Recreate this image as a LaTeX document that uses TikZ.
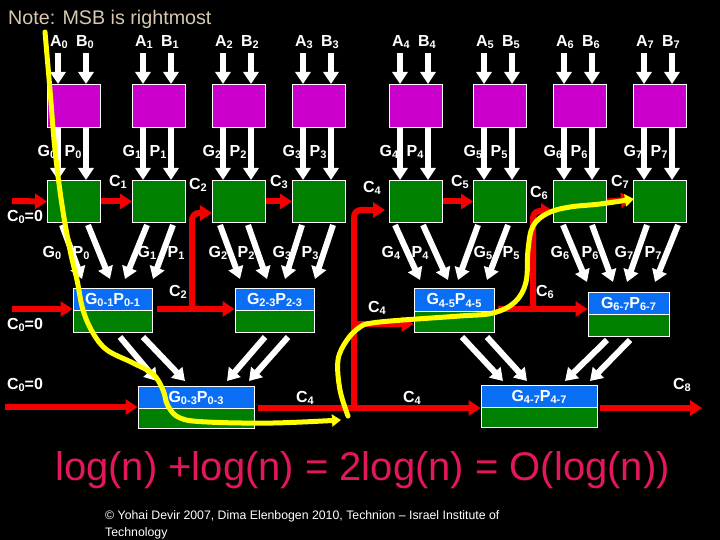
\documentclass[tikz,border=0pt]{standalone}
\usepackage{fontspec}
\setmainfont{Liberation Sans}
\usetikzlibrary{arrows.meta,calc,fit}
\definecolor{purp}{RGB}{204,0,204}
\definecolor{grn}{RGB}{0,128,0}
\definecolor{blu}{RGB}{10,110,245}
\definecolor{redc}{RGB}{245,0,0}
\definecolor{pinkc}{RGB}{228,24,88}
\definecolor{notec}{RGB}{215,200,175}
\definecolor{yel}{RGB}{255,255,0}
\newcommand\sbs[1]{\raisebox{-2.5bp}{\fontsize{11bp}{11bp}\selectfont #1}}
\newcommand\tbox[7]{%
  \fill[grn] (#2,#3) rectangle (#4,#5);
  \fill[blu] (#2,#3) rectangle (#4,#6);
  \draw[white,line width=1bp] (#2,#6) -- (#4,#6);
  \node[draw=white,line width=1bp,inner sep=0pt,fit={(#2,#3) (#4,#5)}] (#1) {};
  \node[lab] (#1t) at ({(#2+#4)/2},{(#3+#6)/2+1}) {#7};
}
\begin{document}
\begin{tikzpicture}[x=1bp,y=-1bp,
  lab/.style={text=white,font=\fontsize{16bp}{18bp}\selectfont\bfseries,inner sep=0pt},
  pbox/.style={draw=white,line width=1bp,fill=purp,minimum width=53bp,minimum height=43bp,inner sep=0pt,anchor=north west},
  gbox/.style={draw=white,line width=1bp,fill=grn,minimum width=53bp,minimum height=42bp,inner sep=0pt,anchor=north west},
  wa/.style={draw=white,line width=6bp,-{Triangle[length=12bp,width=15bp]}},
  ra/.style={draw=redc,line width=6bp,-{Triangle[length=12bp,width=15bp]}},
  yl/.style={draw=yel,line width=5bp,line cap=round,line join=round,-{Triangle[length=9bp,width=12bp]}}]
\fill[black] (0,0) rectangle (720,540);
\useasboundingbox (0,0) rectangle (720,540);
\node[anchor=base west,text=notec,font=\fontsize{19.7bp}{22bp}\selectfont,inner sep=0pt] (note) at (8,25) {Note: MSB is rightmost};
% top rows
\foreach \i/\l in {0/47,1/132,2/212,3/292,4/389,5/473,6/553,7/633} {
  \node[pbox] (p\i) at (\l,84) {};
  \node[gbox] (g\i) at (\l,180) {};
  \node[lab] (la\i) at ({\l+12},42) {A\sbs{\i}};
  \node[lab] (lb\i) at ({\l+38},42) {B\sbs{\i}};
  \node[lab] (lg\i) at ({\l+0},152) {G\sbs{\i}};
  \node[lab] (lp\i) at ({\l+26},152) {P\sbs{\i}};
  \coordinate (ta\i) at ({\l+11},53);
  \coordinate (tb\i) at ({\l+39},53);
  \draw[wa] (ta\i) -- (ta\i |- p\i.north);
  \draw[wa] (tb\i) -- (tb\i |- p\i.north);
  \draw[wa] (ta\i |- p\i.south) -- (ta\i |- g\i.north);
  \draw[wa] (tb\i |- p\i.south) -- (tb\i |- g\i.north);
}
% level-2 labels
\foreach \c/\d/\x in {G/0/52,P/0/81,G/1/147,P/1/176,G/2/218,P/2/246,G/3/282,P/3/310,G/4/391,P/4/420,G/5/483,P/5/511,G/6/560,P/6/590,G/7/624,P/7/653} {
  \node[lab] (m\c\d) at (\x,253) {\c\sbs{\d}};
}
% level-2 boxes
\tbox{q01}{73}{288}{152}{332}{310}{G\sbs{0-1}P\sbs{0-1}}
\tbox{q23}{235}{288}{314}{332}{310}{G\sbs{2-3}P\sbs{2-3}}
\tbox{q45}{414}{288}{494}{332}{311}{G\sbs{4-5}P\sbs{4-5}}
\tbox{q67}{588}{292}{669}{336}{314}{G\sbs{6-7}P\sbs{6-7}}
% level-3 boxes
\tbox{q03}{138}{386}{254}{428}{408}{G\sbs{0-3}P\sbs{0-3}}
\tbox{q47}{481}{385}{597}{427}{407}{G\sbs{4-7}P\sbs{4-7}}
% diagonal arrows to level 2
\foreach \a/\b/\c/\d in {62/225/82/279,88/225/110/279,147/225/125/279,173/225/153/279,
  220/225/240/279,248/225/267/279,302/225/285/279,333/225/315/279,
  395/225/420/280,423/225/448/280,478/225/458/280,508/225/487/280,
  563/225/587/282,592/225/613/282,647/225/627/282,678/225/655/282} {
  \draw[wa] (\a,\b) -- (\c,\d);
}
% diagonal arrows to level 3
\foreach \a/\b/\c/\d in {120/337/157/381,143/337/185/381,265/337/227/381,288/337/249/381,
  462/337/503/381,487/337/527/381,607/340/565/381,630/340/590/381} {
  \draw[wa] (\a,\b) -- (\c,\d);
}
% red connectors
\draw[ra] (12,201) -- (g0.west);
\draw[ra] (g0.east) -- (g1.west);
\draw[ra] (g2.east) -- (g3.west);
\draw[ra] (g4.east) -- (g5.west);
\draw[ra] (g6.east) -- ([yshift=2bp]g7.west);
\draw[ra] (12,309) -- (q01.west |- 0,309);
\draw[ra] (157,309) -- (q23.west |- 0,309);
\draw[ra,rounded corners=7bp] (192,309) -- (192,213) -- (g2.west |- 0,213);
\draw[ra] (498,309) -- (q67.west |- 0,309);
\draw[ra,rounded corners=7bp] (533,309) -- (533,211) -- (g6.west |- 0,211);
\draw[ra] (5,407) -- (q03.west |- 0,407);
\draw[ra] (258,408) -- (q47.west |- 0,408);
\draw[ra,rounded corners=7bp] (354,408) -- (354,210) -- ([xshift=-4bp]g4.west |- 0,210);
\draw[ra] (354,324) -- (q45.west |- 0,324);
\draw[ra] (600,408) -- (702,408);
% carry labels
\node[lab] (c0a) at (25,217) {C\sbs{0}=0};
\node[lab] (c0b) at (25,325) {C\sbs{0}=0};
\node[lab] (c0c) at (25,385) {C\sbs{0}=0};
\node[lab] (c1) at (118,182) {C\sbs{1}};
\node[lab] (c2a) at (198,185) {C\sbs{2}};
\node[lab] (c2b) at (178,292) {C\sbs{2}};
\node[lab] (c3) at (279,182) {C\sbs{3}};
\node[lab] (c4a) at (372,188) {C\sbs{4}};
\node[lab] (c4b) at (377,308) {C\sbs{4}};
\node[lab] (c4c) at (305,398) {C\sbs{4}};
\node[lab] (c4d) at (412,398) {C\sbs{4}};
\node[lab] (c5) at (460,182) {C\sbs{5}};
\node[lab] (c6a) at (539,193) {C\sbs{6}};
\node[lab] (c6b) at (545,292) {C\sbs{6}};
\node[lab] (c7) at (620,182) {C\sbs{7}};
\node[lab] (c8) at (682,385) {C\sbs{8}};
% yellow critical path
\draw[yl] plot[smooth,tension=0.6] coordinates {(45,32) (50,90) (55,150) (62,205) (70,250) (77,280) (83,310) (93,333) (107,350) (133,363) (153,374) (163,390) (168,406) (180,418) (207,422) (273,423) (341,420)};
\draw[yl] plot[smooth,tension=0.6] coordinates {(348,416) (340,390) (338,360) (347,340) (360,327) (372,323) (403,320) (460,316) (493,313) (515,302) (526,282) (528,250) (533,226) (548,213) (570,207) (600,204) (634,199)};
% bottom texts
\node[anchor=base west,text=pinkc,font=\fontsize{40bp}{42bp}\selectfont,inner sep=0pt] (eq) at (55,480) {log(n) +log(n) = 2log(n) = O(log(n))};
\node[anchor=base west,text=white,font=\fontsize{12.3bp}{15bp}\selectfont,inner sep=0pt] (copy) at (105,519) {© Yohai Devir 2007, Dima Elenbogen 2010, Technion – Israel Institute of};
\node[anchor=base west,text=white,font=\fontsize{12.3bp}{15bp}\selectfont,inner sep=0pt] (copy2) at (105,536) {Technology};
\end{tikzpicture}
\end{document}
